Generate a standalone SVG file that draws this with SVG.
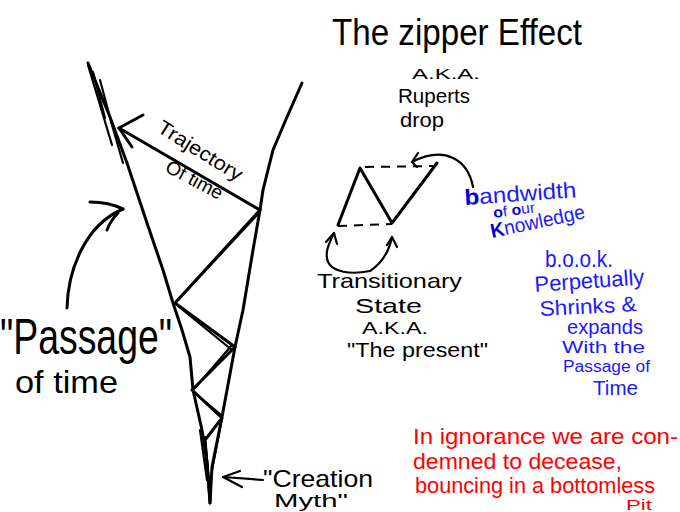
<svg xmlns="http://www.w3.org/2000/svg" width="680" height="512" viewBox="0 0 680 512">
<style>
.ln{fill:none;stroke:#000;stroke-width:3;stroke-linecap:round;stroke-linejoin:round}
.th{fill:none;stroke:#000;stroke-width:2.2;stroke-linecap:round;stroke-linejoin:round}
.ds{fill:none;stroke:#000;stroke-width:2;stroke-dasharray:9,7}
.k{font-family:"Liberation Sans",Arial,sans-serif;fill:#000}
.b{font-family:"Liberation Sans",Arial,sans-serif;fill:#1a1aff}
.r{font-family:"Liberation Sans",Arial,sans-serif;fill:#ff0000}
</style>
<rect width="680" height="512" fill="#fff"/>

<g id="funnel">
  <path class="ln" d="M88,63 L110,117 L127,163 L147,223 L163,270 L173,303 L182,330 L190,357 L193,390 L202,430 L207,462 L210,503"/>
  <path class="th" d="M88,65 L100,105 L112,145"/>
  <path class="th" d="M93,72 L105,118"/>
  <path class="th" d="M100,80 L112,125 L123,163"/>
  <path class="ln" d="M302,83 L287,117 L273,150 L263,190 L260,210 L253,250 L243,310 L235,347 L222,417 L212,467 L210,503"/>
</g>

<g id="zigzag">
  <path class="ln" d="M260,210 L175,303 L235,347 L192,390 L222,418 L205,440 L210,500"/>
  <path class="th" d="M258,214 L178,300 M178,306 L232,350 M232,345 L195,388 M195,393 L220,414"/>
  <path class="th" d="M222,418 L212,470 M205,437 L210,495 M200,430 L207,480"/>
</g>

<g id="connectors">
  <path class="ln" d="M260,210 L119,128"/>
  <path class="ln" d="M143,115 L119,128 L132,147"/>
  <path class="ln" d="M67,308 C68,270 85,225 123,209"/>
  <path class="ln" d="M90,202 C105,202 115,205 123,209"/>
  <path class="ln" d="M107,230 C110,222 114,217 118,213"/>
  <path class="th" d="M263,480 L223,477"/>
  <path class="th" d="M240,471 L223,477 L242,487"/>
  <path class="th" d="M473,187 C468,160 445,145 412,162"/>
  <path class="th" d="M418,153 L412,162 L417,167"/>
  <path class="th" d="M370,271 C350,275 333,272 328,262 C324,252 330,242 334,233"/>
  <path class="th" d="M326,242 L334,233 L337,244"/>
  <path class="th" d="M370,271 C382,263 389,252 392,237"/>
  <path class="th" d="M387,245 L392,237 L397,247"/>
</g>

<g id="zipper-small">
  <path class="ln" d="M338,225 L360,168 L392,223 L437,163"/>
  <path class="ds" d="M365,167 L433,166"/>
  <path class="ds" d="M338,226 L392,224"/>
</g>

<g id="title">
  <text class="k" x="332" y="45" font-size="36" textLength="250" lengthAdjust="spacingAndGlyphs">The zipper Effect</text>
  <text class="k" x="412" y="79" font-size="15" textLength="68" lengthAdjust="spacingAndGlyphs">A.K.A.</text>
  <text class="k" x="398" y="103" font-size="21" textLength="72" lengthAdjust="spacingAndGlyphs">Ruperts</text>
  <text class="k" x="400" y="127" font-size="20" textLength="44" lengthAdjust="spacingAndGlyphs">drop</text>
</g>

<g id="trajectory-label">
  <text class="k" font-size="20" transform="translate(156,131) rotate(32)" textLength="96" lengthAdjust="spacingAndGlyphs">Trajectory</text>
  <text class="k" font-size="19" transform="translate(164,171) rotate(28)" textLength="62" lengthAdjust="spacingAndGlyphs">Of time</text>
</g>

<g id="passage-label">
  <text class="k" x="0" y="354" font-size="50" textLength="172" lengthAdjust="spacingAndGlyphs">"Passage"</text>
  <text class="k" x="15" y="393" font-size="32" textLength="103" lengthAdjust="spacingAndGlyphs">of time</text>
</g>

<g id="creation-label">
  <text class="k" x="263" y="487" font-size="24" textLength="110" lengthAdjust="spacingAndGlyphs">"Creation</text>
  <text class="k" x="274" y="507" font-size="19" textLength="74" lengthAdjust="spacingAndGlyphs">Myth"</text>
</g>

<g id="transitionary-label">
  <text class="k" x="317" y="288" font-size="21" textLength="145" lengthAdjust="spacingAndGlyphs">Transitionary</text>
  <text class="k" x="355" y="313" font-size="21" textLength="67" lengthAdjust="spacingAndGlyphs">State</text>
  <text class="k" x="362" y="334" font-size="17" textLength="66" lengthAdjust="spacingAndGlyphs">A.K.A.</text>
  <text class="k" x="347" y="357" font-size="21" textLength="141" lengthAdjust="spacingAndGlyphs">"The present"</text>
</g>

<g id="bandwidth-label">
  <text class="b" font-size="22" transform="translate(465,205) rotate(-4)" textLength="112" lengthAdjust="spacingAndGlyphs"><tspan fill="#0000e0" font-weight="bold">b</tspan>andwidth</text>
  <text class="b" font-size="15" transform="translate(494,218) rotate(-8)" textLength="42" lengthAdjust="spacingAndGlyphs"><tspan fill="#0000e0" font-weight="bold">o</tspan>f <tspan fill="#0000e0" font-weight="bold">o</tspan>ur</text>
  <text class="b" font-size="20" transform="translate(492,238) rotate(-12)" textLength="96" lengthAdjust="spacingAndGlyphs"><tspan fill="#0000e0" font-weight="bold">K</tspan>nowledge</text>
</g>

<g id="book-label">
  <text class="b" x="545" y="267" font-size="24" textLength="68" lengthAdjust="spacingAndGlyphs">b.o.o.k.</text>
  <text class="b" font-size="22" transform="translate(535,292) rotate(-4)" textLength="110" lengthAdjust="spacingAndGlyphs">Perpetually</text>
  <text class="b" font-size="21" transform="translate(540,316) rotate(-3)" textLength="97" lengthAdjust="spacingAndGlyphs">Shrinks &amp;</text>
  <text class="b" x="567" y="334" font-size="20" textLength="76" lengthAdjust="spacingAndGlyphs">expands</text>
  <text class="b" x="562" y="353" font-size="16" textLength="83" lengthAdjust="spacingAndGlyphs">With the</text>
  <text class="b" x="563" y="372" font-size="16" textLength="87" lengthAdjust="spacingAndGlyphs">Passage of</text>
  <text class="b" x="593" y="395" font-size="20" textLength="45" lengthAdjust="spacingAndGlyphs">Time</text>
</g>

<g id="ignorance-label">
  <text class="r" x="413" y="444" font-size="22" textLength="265" lengthAdjust="spacingAndGlyphs">In ignorance we are con-</text>
  <text class="r" x="413" y="469" font-size="22" textLength="209" lengthAdjust="spacingAndGlyphs">demned to decease,</text>
  <text class="r" x="415" y="493" font-size="22" textLength="240" lengthAdjust="spacingAndGlyphs">bouncing in a bottomless</text>
  <text class="r" x="626" y="510" font-size="14" textLength="26" lengthAdjust="spacingAndGlyphs">Pit</text>
</g>
</svg>
